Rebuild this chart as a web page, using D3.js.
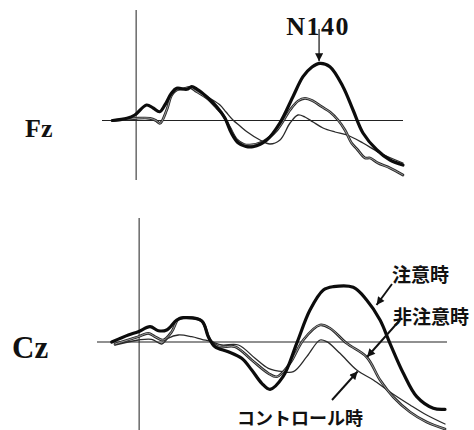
<!DOCTYPE html>
<html>
<head>
<meta charset="utf-8">
<script src="https://cdn.jsdelivr.net/npm/d3@7"></script>
<style>
  body { margin: 0; background: #fff; }
  svg { display: block; }
  .site { font-family: "Liberation Serif", "DejaVu Serif", serif; font-weight: bold; fill: #111; }
  .jp { font-family: "Noto Sans CJK JP", sans-serif; font-weight: bold; fill: #111; }
</style>
</head>
<body>
<div class="plot"></div>
<script>
// DATA: [time (ms), amplitude (uV, negative up)]
let fzAttend = [[-18,0],[-7,-0.22],[-1,-0.55],[8,-1.55],[13,-1.25],[18,-0.88],[22,-1.55],[27,-2.72],[31,-3.22],[38.7,-3.12],[42.5,-3.38],[46.4,-3.15],[54,-2.38],[61.7,-1.38],[68,-0.22],[73,1.28],[78,2.22],[84,2.6],[89.4,2.62],[100,1.95],[110,0.25],[120,-2.38],[127.7,-4.38],[134.6,-5.35],[140.7,-5.72],[148.3,-5.38],[158.3,-3.38],[166,-1.05],[173.6,1.25],[184.3,2.95],[194.3,3.95],[204.2,4.45]];
let fzUnattend = [[-18.5,0],[-8.5,-0.1],[0.4,-0.22],[10.6,-0.22],[15.2,0],[18.3,0.28],[23.4,-1.05],[27.2,-2.55],[31,-3.05],[35.9,-3.15],[41.2,-3.32],[46.4,-2.88],[54,-2.25],[61.7,-1.25],[66.5,-0.55],[71.8,0.75],[77.2,1.95],[82.6,2.4],[87.1,2.45],[97.1,2.12],[107.8,0.95],[117.8,-1.05],[123.9,-1.95],[129.2,-2.22],[135.4,-1.95],[142,-1.38],[148.4,-0.85],[154.5,-0.05],[159.8,0.95],[165,2.28],[169,2.85],[175.2,3.75],[179,3.75],[185.1,4.25],[194.3,4.75],[204.2,5.45]];
let fzControl = [[-18.5,0.05],[-8.5,-0.1],[0.4,-0.22],[10.6,-0.2],[15.2,0.05],[18.3,0.3],[23.4,-1.05],[27.2,-2.55],[31,-3.05],[35.9,-3.2],[41.2,-3.3],[46.4,-3.05],[51.2,-2.65],[56.5,-2.22],[64.2,-1.55],[68.8,-0.85],[74.1,-0.05],[79.5,0.55],[84.8,1.12],[94.8,1.95],[102.4,2.35],[110.1,1.95],[117.8,0.25],[123.9,-0.55],[129.2,-0.35],[135.4,0.15],[143,0.75],[152.2,1.15],[161.4,1.45],[173.6,2.25],[186.6,3.25],[204.2,4.25]];

let czAttend = [[-18.8,0],[-7.4,-0.7],[-0.6,-1.03],[7.5,-1.53],[13.2,-1.13],[18.9,-1.2],[25.8,-2.2],[30.3,-2.43],[43,-2.1],[47.5,-0.53],[52.1,0.47],[61.2,0.97],[70.4,1.63],[77.3,2.8],[84.2,4.13],[89.9,4.73],[98.8,3.47],[108.2,0.13],[117.3,-3.2],[126.5,-5.2],[133.3,-5.53],[147,-5.47],[156.2,-4.2],[165.4,-2.2],[172.2,0.13],[181.4,3.13],[190.6,5.47],[202,6.63],[210,6.73]];
let czUnattend = [[-16.6,0.2],[-0.6,-0.53],[6.3,-0.87],[10.9,-0.53],[16.6,-0.2],[22.4,-1.03],[26.9,-2.27],[31.5,-2.43],[43,-2.1],[48.7,-0.2],[54.4,0.47],[65.8,0.47],[77.3,1.8],[88.7,3.13],[94.5,3.47],[103.6,2.13],[112.7,-0.2],[124.2,-1.7],[131.1,-1.37],[142.5,0.13],[156.2,1.5],[165.4,3.8],[174.5,5.5],[186,7],[197.4,8],[210,8.7]];
let czControl = [[-16.6,0.3],[-0.6,-0.2],[8.6,-0.27],[15.5,0.2],[20,-0.37],[26.9,-0.7],[36.1,-0.53],[43,-0.27],[49.8,-0.03],[56.7,0.3],[68.1,0.3],[79.6,1.63],[88.7,2.63],[99,2.97],[105.9,2.97],[115.1,1.47],[124.2,-0.2],[128.8,-0.03],[137.9,1.13],[149.4,2.8],[160.8,3.8],[172.2,5],[186,6.3],[197.4,7.3],[210,8.2]];

let siteNames = ["Fz", "Cz"];
let conditionNames = ["注意時", "非注意時", "コントロール時"];
let peakLabel = "N140";
let peakTime = 140;

//GENERAL VARIABLE INITIALIZATION
let w = 474, h = 430;
let svg = d3.select(".plot").append("svg")
    .attr("width", w)
    .attr("height", h);

let defs = svg.append("defs");
defs.append("marker")
    .attr("id", "head")
    .attr("viewBox", "0 0 10 10")
    .attr("refX", 10).attr("refY", 5)
    .attr("markerWidth", 9).attr("markerHeight", 8)
    .attr("markerUnits", "userSpaceOnUse")
    .attr("orient", "auto")
  .append("path")
    .attr("d", "M0,0 L10,5 L0,10 z")
    .attr("fill", "#111");

// panel layout
let panels = [
  { name: siteNames[0], series: [fzControl, fzUnattend, fzAttend], tDomain: [-20, 205], xRange: [110, 404],
    base: 120.5, axisTop: 10, axisBottom: 180, lineX: [102, 403], labelX: 25, labelY: 137, labelSize: 26 },
  { name: siteNames[1], series: [czControl, czUnattend, czAttend], tDomain: [-20, 210], xRange: [110, 445],
    base: 342, axisTop: 218, axisBottom: 430, lineX: [97, 447], labelX: 12, labelY: 358, labelSize: 31 }
];

let styles = [
  [{ stroke: "#2a2a2a", width: 1.3 }],
  [{ stroke: "#2a2a2a", width: 2.7 }, { stroke: "#a8a8a8", width: 0.9 }],
  [{ stroke: "#0c0c0c", width: 3.2 }]
];

panels.forEach(function(p) {
  p.x = d3.scaleLinear().domain(p.tDomain).range(p.xRange);
  p.y = d3.scaleLinear().domain([-10, 10]).range([p.base - 100, p.base + 100]);

  let g = svg.append("g").attr("class", "panel");

  // axes
  g.append("line")
      .attr("x1", p.x(0)).attr("x2", p.x(0))
      .attr("y1", p.axisTop).attr("y2", p.axisBottom)
      .attr("stroke", "#333").attr("stroke-width", 1.1);
  g.append("line")
      .attr("x1", p.lineX[0]).attr("x2", p.lineX[1])
      .attr("y1", p.y(0)).attr("y2", p.y(0))
      .attr("stroke", "#222").attr("stroke-width", 1.1);

  let line = d3.line()
      .x(function(d) { return p.x(d[0]); })
      .y(function(d) { return p.y(d[1]); })
      .curve(d3.curveCatmullRom.alpha(0.5));

  p.series.forEach(function(s, i) {
    styles[i].forEach(function(st) {
      g.append("path")
          .attr("d", line(s))
          .attr("fill", "none")
          .attr("stroke", st.stroke)
          .attr("stroke-width", st.width)
          .attr("stroke-linejoin", "round")
          .attr("stroke-linecap", "round");
    });
  });

  g.append("text")
      .attr("class", "site")
      .attr("x", p.labelX).attr("y", p.labelY)
      .attr("font-size", p.labelSize)
      .text(p.name);
});

//N140 label and arrow
let fzPanel = panels[0];
let peakAmp = d3.min(fzAttend, function(d) { return d[1]; });
svg.append("text")
    .attr("class", "site")
    .attr("x", fzPanel.x(peakTime) - 1).attr("y", 35)
    .attr("text-anchor", "middle")
    .attr("font-size", 26)
    .attr("letter-spacing", 1.5)
    .text(peakLabel);
svg.append("line")
    .attr("x1", fzPanel.x(peakTime)).attr("x2", fzPanel.x(peakTime))
    .attr("y1", 29).attr("y2", fzPanel.y(peakAmp) - 2)
    .attr("stroke", "#111").attr("stroke-width", 1.2)
    .attr("marker-end", "url(#head)");

//Condition labels with arrows (pointing at the Cz traces)
let czPanel = panels[1];
let labelSpots = [
  { text: conditionNames[0], x: 392, y: 273, size: 19, from: [392, 284], to: [czPanel.x(163), czPanel.y(-3.7)] },
  { text: conditionNames[1], x: 393, y: 315, size: 19, from: [400, 320], to: [czPanel.x(156.5), czPanel.y(1.5)] },
  { text: conditionNames[2], x: 237, y: 417, size: 18, from: [332, 400], to: [czPanel.x(150), czPanel.y(2.95)] }
];

labelSpots.forEach(function(l) {
  svg.append("text")
      .attr("class", "jp")
      .attr("x", l.x).attr("y", l.y)
      .attr("dominant-baseline", "central")
      .attr("font-size", l.size)
      .text(l.text);
  svg.append("line")
      .attr("x1", l.from[0]).attr("y1", l.from[1])
      .attr("x2", l.to[0]).attr("y2", l.to[1])
      .attr("stroke", "#111").attr("stroke-width", 1.9)
      .attr("marker-end", "url(#head)");
});
</script>
</body>
</html>
